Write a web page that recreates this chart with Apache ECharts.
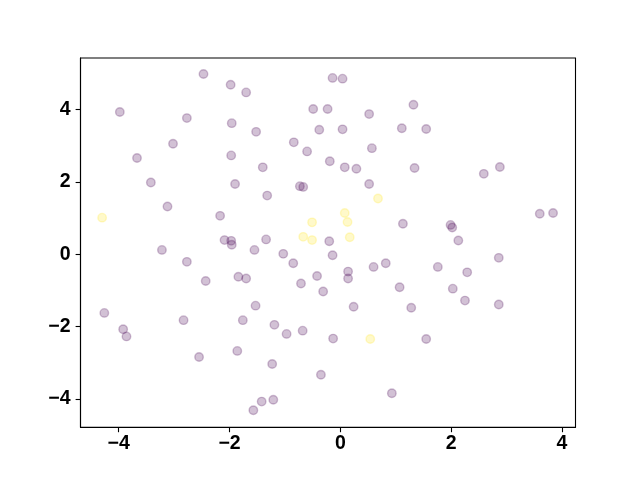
<!DOCTYPE html>
<html>
<head>
<meta charset="utf-8">
<script src="https://cdn.jsdelivr.net/npm/echarts@6/dist/echarts.min.js"></script>
<style>html,body{margin:0;padding:0;background:#fff;}#c{width:640px;height:480px;}</style>
</head>
<body>
<div id="c"></div>
<script>
const xTicks = [-4, -2, 0, 2, 4];
const yTicks = [-4, -2, 0, 2, 4];

const purplePoints = [
  [-3.98, 3.93], [-2.47, 4.98], [-1.98, 4.68], [-1.70, 4.47], [-2.77, 3.76],
  [-1.96, 3.62], [-3.02, 3.05], [-3.67, 2.66], [-1.97, 2.73], [-3.42, 1.98],
  [-1.90, 1.94], [-3.12, 1.32], [-2.17, 1.06], [-2.09, 0.39], [-1.97, 0.37],
  [-1.96, 0.26], [-3.22, 0.12], [-0.14, 4.87], [0.04, 4.85], [-0.49, 4.01],
  [-0.23, 4.01], [0.52, 3.87], [1.32, 4.13], [-1.52, 3.38], [-0.38, 3.44],
  [0.04, 3.45], [1.11, 3.48], [-0.84, 3.09], [-0.60, 2.84], [0.57, 2.93],
  [-1.40, 2.40], [-0.19, 2.57], [0.08, 2.40], [0.29, 2.36], [1.34, 2.38],
  [-0.73, 1.88], [-0.67, 1.86], [0.52, 1.94], [-1.32, 1.62], [1.13, 0.84],
  [-0.20, 0.36], [-1.34, 0.41], [-1.55, 0.12], [1.55, 3.46], [2.59, 2.22],
  [2.88, 2.41], [3.60, 1.12], [3.84, 1.14], [1.99, 0.81], [2.02, 0.74],
  [2.13, 0.38], [-2.77, -0.21], [-2.43, -0.74], [-1.84, -0.62], [-1.70, -0.67],
  [-4.26, -1.62], [-3.92, -2.07], [-3.86, -2.27], [-2.83, -1.82], [-1.76, -1.82],
  [-2.55, -2.84], [-1.86, -2.67], [-1.03, 0.01], [-0.85, -0.25], [-0.14, -0.03],
  [0.14, -0.48], [0.14, -0.67], [0.60, -0.35], [0.82, -0.25], [-0.71, -0.81],
  [-0.42, -0.60], [-0.31, -1.03], [1.07, -0.91], [-1.53, -1.42], [0.24, -1.45],
  [1.28, -1.48], [-1.19, -1.95], [-0.97, -2.20], [-0.68, -2.11], [-0.13, -2.33],
  [-1.23, -3.03], [-0.35, -3.33], [0.93, -3.84], [-1.42, -4.07], [-1.21, -4.02],
  [-1.57, -4.31], [2.86, -0.10], [1.76, -0.35], [2.29, -0.50], [2.03, -0.95],
  [2.25, -1.28], [2.86, -1.39], [1.55, -2.34]
];

const yellowPoints = [
  [-4.30, 1.01], [0.68, 1.54], [0.08, 1.14], [0.13, 0.89], [-0.51, 0.88],
  [-0.67, 0.48], [-0.51, 0.39], [0.17, 0.47], [0.54, -2.34]
];

const fmt = v => (v < 0 ? '\u2212' + Math.abs(v) : String(v));
const labelStyle = {
  fontFamily: 'Liberation Sans, Arial, sans-serif',
  fontWeight: 'bold',
  fontSize: 19.5,
  color: '#000'
};

const chart = echarts.init(document.getElementById('c'), null, {renderer: 'canvas'});
chart.setOption({
  animation: false,
  backgroundColor: '#fff',
  grid: {
    left: 80.5, top: 58, right: 64.5, bottom: 52.7,
    show: true, borderColor: '#000', borderWidth: 1.1, backgroundColor: 'transparent',
    containLabel: false
  },
  xAxis: {
    type: 'value', min: -4.69, max: 4.245,
    splitLine: {show: false},
    axisLine: {show: true, onZero: false, lineStyle: {color: '#000', width: 1.1}},
    axisTick: {show: true, length: 4.9, lineStyle: {color: '#000', width: 1.1}, customValues: xTicks},
    axisLabel: Object.assign({margin: 6, customValues: xTicks, formatter: fmt}, labelStyle)
  },
  yAxis: {
    type: 'value', min: -4.78, max: 5.42,
    splitLine: {show: false},
    axisLine: {show: true, onZero: false, lineStyle: {color: '#000', width: 1.1}},
    axisTick: {show: true, length: 4.9, lineStyle: {color: '#000', width: 1.1}, customValues: yTicks},
    axisLabel: Object.assign({margin: 10, customValues: yTicks, formatter: fmt}, labelStyle)
  },
  series: [
    {
      type: 'scatter', data: purplePoints, symbolSize: 8.5,
      itemStyle: {color: 'rgba(68,1,84,0.3)', borderColor: 'rgba(68,1,84,0.3)', borderWidth: 1.4}
    },
    {
      type: 'scatter', data: yellowPoints, symbolSize: 8.5,
      itemStyle: {color: 'rgba(253,231,37,0.3)', borderColor: 'rgba(253,231,37,0.3)', borderWidth: 1.4}
    }
  ]
});
</script>
</body>
</html>
